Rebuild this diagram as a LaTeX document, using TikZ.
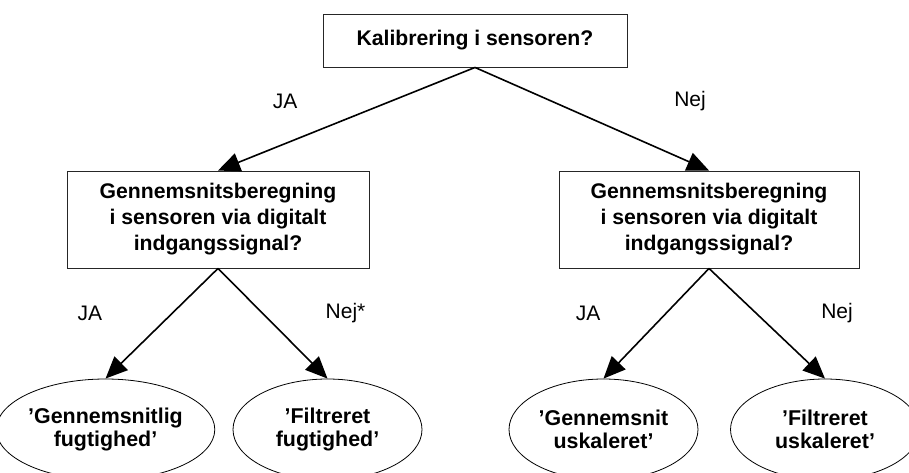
\documentclass[tikz,border=0pt]{standalone}
\usepackage{fontspec}
\setmainfont{Liberation Sans}
\usetikzlibrary{shapes.geometric,arrows.meta}
\begin{document}
\begin{tikzpicture}[x=1pt,y=-1pt,
  qbox/.style={draw=black!85,line width=0.9pt,rectangle,inner sep=0pt,align=center,
    font=\fontsize{21.2}{26}\selectfont\bfseries},
  leaf/.style={draw=black,line width=0.8pt,ellipse,inner sep=0pt,align=center,
    minimum width=189pt,minimum height=101pt,font=\fontsize{21.4}{23.5}\selectfont\bfseries},
  conn/.style={line width=1.6pt,-{Triangle[length=22pt,width=19pt]}},
  lbl/.style={font=\fontsize{21}{24}\selectfont,inner sep=0pt}]
\useasboundingbox (0,0) rectangle (909,473);
\node[qbox,minimum width=304pt,minimum height=53pt] (top) at (475,40.5) {Kalibrering i sensoren?};
\node[qbox,minimum width=302pt,minimum height=97pt] (l) at (218,219.5) {Gennemsnitsberegning\\i sensoren via digitalt\\indgangssignal?};
\node[qbox,minimum width=300pt,minimum height=97pt] (r) at (709,219.5) {Gennemsnitsberegning\\i sensoren via digitalt\\indgangssignal?};
\node[leaf] (e1) at (105.5,429.5) {'Gennemsnitlig\\fugtighed'};
\node[leaf] (e2) at (327.5,429.5) {'Filtreret\\fugtighed'};
\node[leaf] (e3) at (603.5,429.5) {'Gennemsnit\\uskaleret'};
\node[leaf] (e4) at (825,429.5) {'Filtreret\\uskaleret'};
\draw[conn] (top.south) -- (l.north);
\draw[conn] (top.south) -- (r.north);
\draw[conn] (l.south) -- (e1.north);
\draw[conn] (l.south) -- (e2.north);
\draw[conn] (r.south) -- (e3.north);
\draw[conn] (r.south) -- (e4.north);
\node[lbl] (t1) at (285,101) {JA};
\node[lbl] (t2) at (690,101) {Nej};
\node[lbl] (t3) at (90,313) {JA};
\node[lbl] (t4) at (345.5,313) {Nej*};
\node[lbl] (t5) at (588,313) {JA};
\node[lbl] (t6) at (837,313) {Nej};
\end{tikzpicture}
\end{document}
